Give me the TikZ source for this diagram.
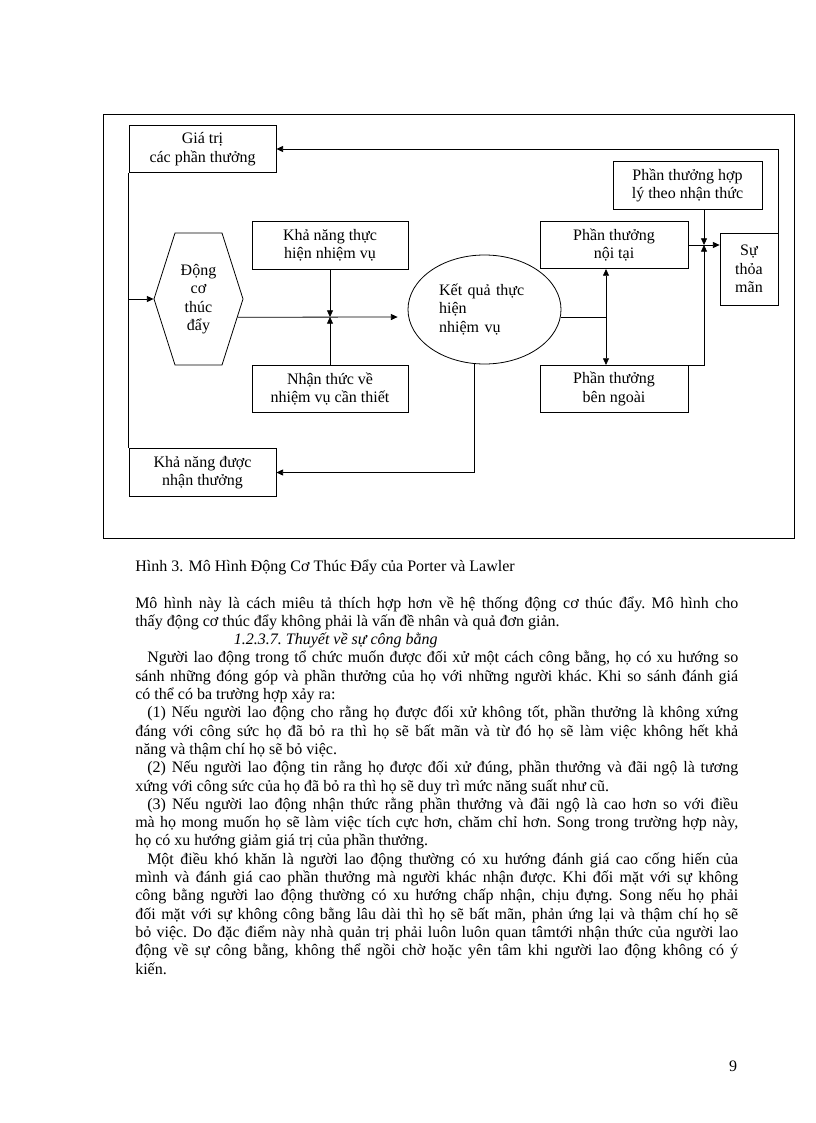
\documentclass[tikz,border=0pt]{standalone}
\usepackage{fontspec}
\setmainfont{Liberation Serif}
\usetikzlibrary{arrows.meta,positioning,shapes.geometric,shapes.symbols}
\tikzset{
  arrow/.style={-{Triangle[length=5pt,width=4.5pt]},line width=0.6pt},
  link/.style={line width=0.6pt},
  stage/.style={draw,line width=0.6pt,minimum width=110.25pt,minimum height=35.5pt,
    align=center,inner sep=0pt},
  hexa/.style={signal,signal to=west and east,signal pointer angle=144.7,draw,
    line width=0.6pt,minimum width=66.75pt,minimum height=99pt,inner sep=0pt,align=center},
  result/.style={ellipse,draw,line width=0.6pt,minimum width=114.75pt,
    minimum height=81.75pt,inner sep=0pt,text width=68pt,align=left},
  plain/.style={inner sep=0pt},
  bodytext/.style={text width=452.25pt,align=justify,inner sep=0pt,
    font=\fontsize{12pt}{13.725pt}\selectfont}
}

\begin{document}
\begin{tikzpicture}[x=0.75pt,y=-0.75pt,font=\fontsize{12pt}{13.8pt}\selectfont]
  \useasboundingbox (0,0) rectangle (816,1123);
  % figure frame
  \draw[link] (103,114) rectangle (794,538);

  % boxes
  \node[stage] (gia) at (202.5,149) {Giá trị\\các phần thưởng};
  \node[stage,minimum width=117pt] (khaTH) at (330,245.5) {Khả năng thực\\hiện nhiệm vụ};
  \node[stage,minimum width=117pt] (nhanTV) at (330,389) {Nhận thức về\\nhiệm vụ cần thiết};
  \node[stage] (khaNT) at (202.5,472.5) {Khả năng được\\nhận thưởng};
  \node[hexa] (dongco) at (198.5,299) {Động\\cơ\\thúc\\đẩy};
  \node[result] (ketqua) at (484.5,309.5) {Kết quả thực\\hiện\\nhiệm vụ};
  \node[stage,minimum width=111pt] (noitai) at (614,245) {Phần thưởng\\nội tại};
  \node[stage,minimum width=111pt] (benngoai) at (614,389) {Phần thưởng\\bên ngoài};
  \node[stage,minimum width=111.75pt] (hoply) at (687.5,185.5) {Phần thưởng hợp\\lý theo nhận thức};
  \node[stage,minimum width=43.5pt,minimum height=54pt] (thoaman) at (749,269) {Sự\\thỏa\\mãn};

  % junctions
  \coordinate (jA) at (330,317);
  \coordinate (jB) at (606,317);
  \coordinate (jC) at (704,245);

  % connectors
  \draw[link] (gia.south west) -- (khaNT.north west);
  \draw[arrow] (gia.south west |- dongco.west) -- (dongco.west);
  \draw[arrow,shorten >=7.5pt] (dongco.-25) -- (ketqua.west |- jA);
  \draw[arrow] (khaTH.south) -- (jA);
  \draw[arrow] (nhanTV.north) -- (jA);
  \draw[link] (ketqua.east |- jB) -- (jB);
  \draw[arrow] (jB) -- (jB |- noitai.south);
  \draw[arrow] (jB) -- (jB |- benngoai.north);
  \draw[arrow] (noitai.east) -- (thoaman.west |- jC);
  \draw[arrow] (hoply.south -| jC) -- (jC);
  \draw[arrow] (benngoai.north east) -| (jC);
  \draw[arrow] (thoaman.north east) |- (gia.east);
  \draw[arrow] (ketqua.-101) |- (khaNT.east);

  % caption and text
  \node[plain,anchor=base west] (caption) at (135,571)
    {Hình 3. Mô Hình Động Cơ Thúc Đẩy của Porter và Lawler};
  \node[bodytext,anchor=base west] (body) at (135,608) {%
    \frenchspacing\hyphenpenalty=10000 \exhyphenpenalty=10000
    \noindent Mô hình này là cách miêu tả thích hợp hơn về hệ thống động cơ thúc đẩy. Mô hình cho\linebreak
    thấy động cơ thúc đẩy không phải là vấn đề nhân và quả đơn giản.\par
    \noindent\hspace*{74pt}\textit{1.2.3.7. Thuyết về sự công bằng}\par
    \noindent\hspace*{9pt}Người lao động trong tổ chức muốn được đối xử một cách công bằng, họ có xu hướng so\linebreak
    sánh những đóng góp và phần thưởng của họ với những người khác. Khi so sánh đánh giá\linebreak
    có thể có ba trường hợp xảy ra:\par
    \noindent\hspace*{9pt}(1) Nếu người lao động cho rằng họ được đối xử không tốt, phần thưởng là không xứng\linebreak
    đáng với công sức họ đã bỏ ra thì họ sẽ bất mãn và từ đó họ sẽ làm việc không hết khả\linebreak
    năng và thậm chí họ sẽ bỏ việc.\par
    \noindent\hspace*{9pt}(2) Nếu người lao động tin rằng họ được đối xử đúng, phần thưởng và đãi ngộ là tương\linebreak
    xứng với công sức của họ đã bỏ ra thì họ sẽ duy trì mức năng suất như cũ.\par
    \noindent\hspace*{9pt}(3) Nếu người lao động nhận thức rằng phần thưởng và đãi ngộ là cao hơn so với điều\linebreak
    mà họ mong muốn họ sẽ làm việc tích cực hơn, chăm chỉ hơn. Song trong trường hợp này,\linebreak
    họ có xu hướng giảm giá trị của phần thưởng.\par
    \noindent\hspace*{9pt}Một điều khó khăn là người lao động thường có xu hướng đánh giá cao cống hiến của\linebreak
    mình và đánh giá cao phần thưởng mà người khác nhận được. Khi đối mặt với sự không\linebreak
    công bằng người lao động thường có xu hướng chấp nhận, chịu đựng. Song nếu họ phải\linebreak
    đối mặt với sự không công bằng lâu dài thì họ sẽ bất mãn, phản ứng lại và thậm chí họ sẽ\linebreak
    bỏ việc. Do đặc điểm này nhà quản trị phải luôn luôn quan tâmtới nhận thức của người lao\linebreak
    động về sự công bằng, không thể ngồi chờ hoặc yên tâm khi người lao động không có ý\linebreak
    kiến.};
  \node[plain,anchor=base] (pagenum) at (733,1071) {9};
\end{tikzpicture}
\end{document}
